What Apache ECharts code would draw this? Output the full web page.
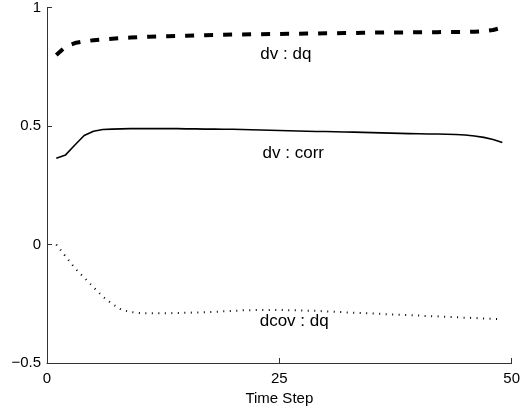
<!DOCTYPE html>
<html>
<head>
<meta charset="utf-8">
<script src="https://cdn.jsdelivr.net/npm/echarts@6/dist/echarts.min.js"></script>
<style>
html,body{margin:0;padding:0;background:#fff;}
#c{width:523px;height:411px;}
</style>
</head>
<body>
<div id="c"></div>
<script>
const timeSteps = [];
for (let i = 1; i <= 49; i++) timeSteps.push(i);

const dvDq = [0.800,0.835,0.850,0.857,0.862,0.865,0.868,0.871,0.873,0.875,
  0.877,0.878,0.879,0.880,0.881,0.882,0.883,0.884,0.885,0.886,
  0.886,0.887,0.887,0.888,0.888,0.889,0.889,0.890,0.890,0.891,
  0.891,0.892,0.892,0.893,0.894,0.894,0.895,0.895,0.895,0.896,
  0.896,0.896,0.897,0.897,0.897,0.898,0.900,0.905,0.915];

const dvCorr = [0.364,0.378,0.420,0.460,0.478,0.485,0.487,0.488,0.489,0.489,
  0.489,0.489,0.489,0.489,0.488,0.488,0.487,0.487,0.486,0.486,
  0.485,0.484,0.483,0.482,0.481,0.480,0.479,0.478,0.477,0.477,
  0.476,0.475,0.474,0.473,0.472,0.471,0.470,0.469,0.468,0.467,
  0.466,0.466,0.465,0.464,0.462,0.458,0.452,0.443,0.430];

const dcovDq = [0.000,-0.050,-0.100,-0.140,-0.180,-0.220,-0.250,-0.275,-0.285,-0.289,
  -0.290,-0.290,-0.290,-0.289,-0.288,-0.287,-0.286,-0.284,-0.282,-0.280,
  -0.278,-0.277,-0.276,-0.276,-0.276,-0.277,-0.278,-0.279,-0.280,-0.282,
  -0.284,-0.286,-0.288,-0.290,-0.291,-0.293,-0.295,-0.297,-0.298,-0.300,
  -0.302,-0.303,-0.305,-0.307,-0.309,-0.310,-0.312,-0.314,-0.316];

const xTicks = [0, 25, 50];
const yTicks = [-0.5, 0, 0.5, 1];
const seriesNames = ['dv : dq', 'dv : corr', 'dcov : dq'];
const labelAnchors = [[25.7, 0.803], [26.5, 0.384], [26.6, -0.325]];
const xTitle = 'Time Step';

function pairs(vals) { return timeSteps.map((t, i) => [t, vals[i]]); }
function fmt(v) { return String(v).replace('-', '\u2212'); }

const FONT = '"Liberation Sans", Arial, Helvetica, sans-serif';
const AX = '#333';

const chart = echarts.init(document.getElementById('c'), null, {renderer: 'canvas'});
chart.setOption({
  animation: false,
  backgroundColor: '#fff',
  grid: {left: 47, right: 7, top: 5, bottom: 48, containLabel: false},
  xAxis: {
    type: 'value', min: xTicks[0], max: xTicks[xTicks.length - 1], interval: 25,
    name: xTitle, nameLocation: 'middle', nameGap: 25,
    nameTextStyle: {fontFamily: FONT, fontSize: 15, color: '#000'},
    axisLine: {show: true, onZero: false, lineStyle: {color: AX, width: 1}},
    axisTick: {show: true, inside: true, length: 5, lineStyle: {color: AX}},
    axisLabel: {fontFamily: FONT, fontSize: 15, color: '#000', margin: 8, formatter: fmt},
    splitLine: {show: false}
  },
  yAxis: {
    type: 'value', min: yTicks[0], max: yTicks[yTicks.length - 1], interval: 0.5,
    axisLine: {show: true, onZero: false, lineStyle: {color: AX, width: 1}},
    axisTick: {show: true, inside: true, length: 5, lineStyle: {color: AX}},
    axisLabel: {fontFamily: FONT, fontSize: 15, color: '#000', margin: 6, formatter: fmt},
    splitLine: {show: false}
  },
  series: [
    {name: seriesNames[0], type: 'line', data: pairs(dvDq), showSymbol: false,
     lineStyle: {color: '#000', width: 4, type: [9, 10], cap: 'butt'}},
    {name: seriesNames[1], type: 'line', data: pairs(dvCorr), showSymbol: false,
     lineStyle: {color: '#000', width: 1.6, type: 'solid'}},
    {name: seriesNames[2], type: 'line', data: pairs(dcovDq), showSymbol: false,
     lineStyle: {color: '#000', width: 2, type: [1, 5.5], cap: 'butt'}}
  ]
});

const graphics = seriesNames.map((name, i) => {
  const p = chart.convertToPixel({gridIndex: 0}, labelAnchors[i]);
  return {type: 'text', x: p[0], y: p[1],
    style: {text: name, fill: '#000', fontFamily: FONT, fontSize: 17,
            align: 'center', verticalAlign: 'middle'}};
});
chart.setOption({graphic: graphics});
</script>
</body>
</html>
